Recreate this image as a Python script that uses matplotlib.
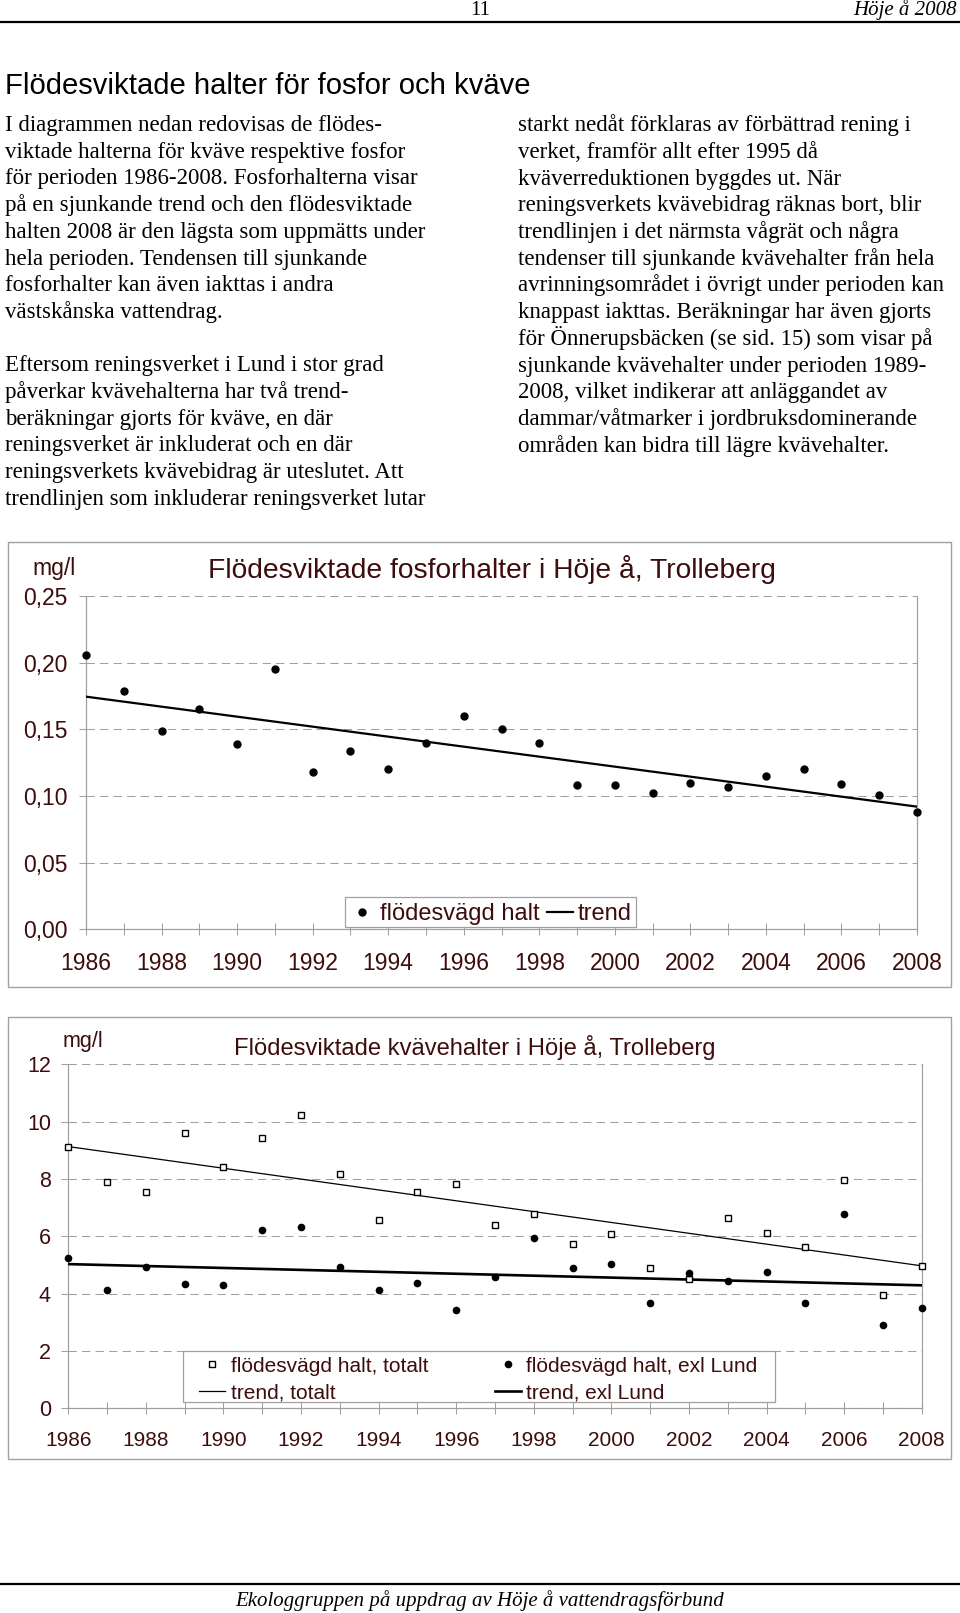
import matplotlib
matplotlib.use("Agg")
import matplotlib.pyplot as plt
from matplotlib.patches import Rectangle
from matplotlib.lines import Line2D

W, H = 960, 1613

# --- data ---
years = list(range(1986, 2009))
fosfor = [0.206, 0.179, 0.149, 0.1655, 0.139, 0.195, 0.118, 0.134, 0.120, 0.140, 0.160,
          0.150, 0.140, 0.108, 0.108, 0.102, 0.110, 0.107, 0.115, 0.120, 0.109, 0.101, 0.088]
trend_years = [1986, 2008]
fosfor_trend = [0.1745, 0.092]

kvave_totalt = [9.13, 7.88, 7.56, 9.62, 8.41, 9.43, 10.22, 8.16, 6.57, 7.55, 7.81,
                6.38, 6.77, 5.72, 6.07, 4.91, 4.50, 6.64, 6.12, 5.62, 7.98, 3.95, 4.97]
kvave_exl_lund = [5.23, 4.12, 4.94, 4.33, 4.30, 6.23, 6.31, 4.94, 4.14, 4.36, 3.42,
                  4.57, 5.93, 4.91, 5.02, 3.67, 4.73, 4.45, 4.76, 3.69, 6.77, 2.90, 3.51]
kvave_trend_totalt = [9.13, 4.97]
kvave_trend_exl = [5.03, 4.29]

p_ticks = [0.00, 0.05, 0.10, 0.15, 0.20, 0.25]
p_ticklabels = ["0,00", "0,05", "0,10", "0,15", "0,20", "0,25"]
n_ticks = [0, 2, 4, 6, 8, 10, 12]
n_ticklabels = ["0", "2", "4", "6", "8", "10", "12"]
year_labels = [str(y) if y % 2 == 0 else "" for y in years]

# --- page text ---
heading = "Flödesviktade halter för fosfor och kväve"
left_par1 = [
    "I diagrammen nedan redovisas de flödes-",
    "viktade halterna för kväve respektive fosfor",
    "för perioden 1986-2008. Fosforhalterna visar",
    "på en sjunkande trend och den flödesviktade",
    "halten 2008 är den lägsta som uppmätts under",
    "hela perioden. Tendensen till sjunkande",
    "fosforhalter kan även iakttas i andra",
    "västskånska vattendrag.",
]
left_par2 = [
    "Eftersom reningsverket i Lund i stor grad",
    "påverkar kvävehalterna har två trend-",
    "beräkningar gjorts för kväve, en där",
    "reningsverket är inkluderat och en där",
    "reningsverkets kvävebidrag är uteslutet. Att",
    "trendlinjen som inkluderar reningsverket lutar",
]
right_par = [
    "starkt nedåt förklaras av förbättrad rening i",
    "verket, framför allt efter 1995 då",
    "kväverreduktionen byggdes ut. När",
    "reningsverkets kvävebidrag räknas bort, blir",
    "trendlinjen i det närmsta vågrät och några",
    "tendenser till sjunkande kvävehalter från hela",
    "avrinningsområdet i övrigt under perioden kan",
    "knappast iakttas. Beräkningar har även gjorts",
    "för Önnerupsbäcken (se sid. 15) som visar på",
    "sjunkande kvävehalter under perioden 1989-",
    "2008, vilket indikerar att anläggandet av",
    "dammar/våtmarker i jordbruksdominerande",
    "områden kan bidra till lägre kvävehalter.",
]

plt.rcParams['font.family'] = ['Liberation Sans', 'DejaVu Sans']
GRAY = '#a0a0a0'
TXT = '#3d0c0c'
SERIF = ['Liberation Serif', 'DejaVu Serif']

fig = plt.figure(figsize=(W / 100, H / 100), dpi=100)


def put(x, y, s, **kw):
    # x, y in page pixels (y from top), y is the baseline
    fig.text(x / W, 1 - y / H, s, va='baseline', **kw)


def box(x0, y0, x1, y1, fill=False, lw=1.0, color=GRAY, z=1):
    r = Rectangle((x0 / W, 1 - y1 / H), (x1 - x0) / W, (y1 - y0) / H,
                  transform=fig.transFigure, fill=fill, facecolor='white',
                  edgecolor=color, lw=lw, zorder=z)
    fig.add_artist(r)


def hline(y, lw=1.6):
    fig.add_artist(Line2D([0, 1], [1 - y / H, 1 - y / H], transform=fig.transFigure,
                          color='black', lw=lw))


def chart_axes(l, t, r, b, ylim, yticks, ylabels, yfs, xfs, ypad, xpad):
    ax = fig.add_axes([l / W, 1 - b / H, (r - l) / W, (b - t) / H])
    ax.set_xlim(1986, 2008)
    ax.set_ylim(*ylim)
    ax.set_xticks(years)
    ax.set_xticklabels(year_labels)
    ax.set_yticks(yticks)
    ax.set_yticklabels(ylabels)
    ax.spines['top'].set_visible(False)
    for s in ['left', 'bottom', 'right']:
        ax.spines[s].set_color(GRAY)
        ax.spines[s].set_linewidth(0.9)
    ax.grid(axis='y', color=GRAY, lw=0.75, linestyle=(0, (8, 5)))
    ax.set_axisbelow(True)
    ax.tick_params(axis='x', direction='inout', length=9, width=0.75, color=GRAY,
                   labelsize=xfs, labelcolor=TXT, pad=xpad)
    ax.tick_params(axis='y', direction='out', length=5, width=0.75, color=GRAY,
                   labelsize=yfs, labelcolor=TXT, pad=ypad)
    return ax


# header / footer
put(480, 15, "11", family=SERIF, fontsize=15, ha='center')
put(957, 15, "Höje å 2008", family=SERIF, fontsize=15, style='italic', ha='right')
hline(21.5)
hline(1584)
put(480, 1606, "Ekologgruppen på uppdrag av Höje å vattendragsförbund",
    family=SERIF, fontsize=15, style='italic', ha='center')

# body text
put(5, 93.5, heading, fontsize=21.1)
for i, line in enumerate(left_par1):
    put(5, 131 + 26.7 * i, line, family=SERIF, fontsize=16.5)
for i, line in enumerate(left_par2):
    put(5, 371.3 + 26.7 * i, line, family=SERIF, fontsize=16.5)
for i, line in enumerate(right_par):
    put(517.7, 131.3 + 26.7 * i, line, family=SERIF, fontsize=16.5)

# ---- chart 1: fosfor ----
box(8, 542, 951, 987)
ax1 = chart_axes(86, 596, 917, 929.3, (0, 0.25), p_ticks, p_ticklabels, 16.5, 16.5, 8.5, 11.5)
pts1, = ax1.plot(years, fosfor, 'o', color='black', ms=5, clip_on=False, zorder=4)
tr1, = ax1.plot(trend_years, fosfor_trend, color='black', lw=1.6, zorder=3)
put(32, 575, "mg/l", fontsize=16.5, color=TXT)
put(208, 577.5, "Flödesviktade fosforhalter i Höje å, Trolleberg", fontsize=20.3, color=TXT)
box(345, 897, 636, 927, fill=True, lw=0.9)
fig.legend([pts1, tr1], ["flödesvägd halt", "trend"], loc='center left',
           bbox_to_anchor=(349 / W, 1 - 914 / H), bbox_transform=fig.transFigure,
           ncol=2, frameon=False, fontsize=17, labelcolor=TXT, handlelength=1.1,
           handletextpad=0.22, columnspacing=0.3, borderpad=0, borderaxespad=0,
           numpoints=1)

# ---- chart 2: kväve ----
box(8, 1017, 951, 1459)
ax2 = chart_axes(68.3, 1064.3, 921.7, 1408.3, (0, 12), n_ticks, n_ticklabels, 15.5, 15, 7.5, 12)
sq, = ax2.plot(years, kvave_totalt, 's', mfc='white', mec='black', mew=1.0, ms=5,
               clip_on=False, zorder=4)
dots, = ax2.plot(years, kvave_exl_lund, 'o', color='black', ms=4.5, clip_on=False, zorder=4)
tr_tot, = ax2.plot(trend_years, kvave_trend_totalt, color='black', lw=0.9, zorder=3)
tr_exl, = ax2.plot(trend_years, kvave_trend_exl, color='black', lw=1.9, zorder=3)
put(63, 1046.5, "mg/l", fontsize=15.5, color=TXT)
put(234.5, 1055, "Flödesviktade kvävehalter i Höje å, Trolleberg", fontsize=17.1, color=TXT)
box(183, 1350.7, 775, 1402.3, fill=True, lw=0.9)
fig.legend([sq, tr_tot, dots, tr_exl],
           ["flödesvägd halt, totalt", "trend, totalt",
            "flödesvägd halt, exl Lund", "trend, exl Lund"],
           loc='center left', bbox_to_anchor=(199 / W, 1 - 1379.5 / H),
           bbox_transform=fig.transFigure, ncol=2, frameon=False, fontsize=15,
           labelcolor=TXT, handlelength=1.25, handletextpad=0.27, columnspacing=3.2,
           labelspacing=0.38, borderpad=0, borderaxespad=0, numpoints=1)

fig.savefig("out.png", dpi=100)
